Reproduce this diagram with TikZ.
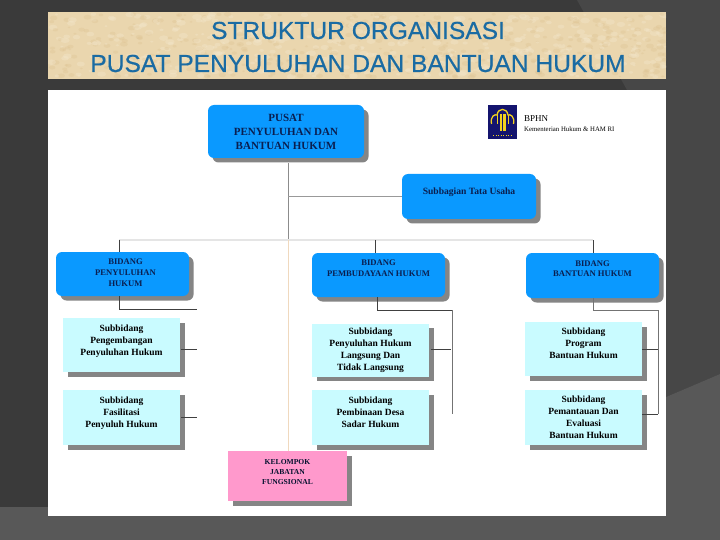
\documentclass[tikz,border=0pt]{standalone}
\usepackage{fontspec}
\setmainfont{Liberation Serif}
\newfontfamily\titlefont[FakeBold=0.5]{Liberation Sans}
\usetikzlibrary{shadows,calc}

\definecolor{slateleft}{HTML}{3A3A3A}
\definecolor{slateright}{HTML}{474747}
\definecolor{slatelow}{HTML}{585858}
\definecolor{papertan}{HTML}{EAD6AE}
\definecolor{paperlight}{HTML}{F4E8CE}
\definecolor{paperdark}{HTML}{DCC08E}
\definecolor{titleblue}{HTML}{1A6BA3}
\definecolor{boxblue}{HTML}{0A99FF}
\definecolor{boxcyan}{HTML}{C9FBFF}
\definecolor{boxpink}{HTML}{FF99CC}
\definecolor{boxshadow}{HTML}{858585}
\definecolor{inkblue}{HTML}{0A1F50}
\definecolor{logonavy}{HTML}{14146E}
\definecolor{logogold}{HTML}{F2D21E}
\definecolor{trunktan}{HTML}{F0D9BE}

\tikzset{
  boxshade/.style={drop shadow={shadow xshift=4.5pt, shadow yshift=-4.5pt,
    fill=boxshadow, opacity=1}},
  headbox/.style={boxshade, fill=boxblue, rounded corners=6pt, inner sep=0pt,
    align=center, text=inkblue, font=\fontsize{8.6}{10.8}\selectfont\bfseries},
  subbox/.style={boxshade, fill=boxcyan, inner sep=0pt, minimum width=117pt,
    align=center, text=black, font=\fontsize{9.5}{12}\selectfont\bfseries},
  darkline/.style={draw=black!75, line width=0.7pt},
  greyline/.style={draw=black!40, line width=0.7pt},
}

\begin{document}
\begin{tikzpicture}[x=1pt, y=-1pt]

  % ================================================================
  % Slide background
  % ================================================================

  \useasboundingbox (0, 0) rectangle (720, 540);
  \fill[slateleft] (0, 0) rectangle (720, 540);
  \fill[slateright] (577, 0) -- (720, 0) -- (720, 374) -- (666, 397)
    -- (666, 90) -- (627, 90) -- cycle;
  \fill[slatelow] (0, 507) -- (48, 507) -- (48, 516) -- (666, 516)
    -- (666, 397) -- (720, 374) -- (720, 540) -- (0, 540) -- cycle;

  % ================================================================
  % Title banner
  % ================================================================

  \fill[papertan] (48, 12) rectangle (666, 79);
  \begin{scope}
    \clip (48, 12) rectangle (666, 79);
    \pgfmathsetseed{42}
    \foreach \n in {1,...,400} {
      \pgfmathsetmacro{\px}{48+618*rnd}
      \pgfmathsetmacro{\py}{14+63*rnd}
      \pgfmathsetmacro{\pr}{1.5+3.5*rnd}
      \fill[paperlight, opacity=0.35] (\px, \py) ellipse ({\pr pt} and {0.6*\pr pt});
      \pgfmathsetmacro{\qx}{48+618*rnd}
      \pgfmathsetmacro{\qy}{14+63*rnd}
      \fill[paperdark, opacity=0.3] (\qx, \qy) ellipse ({0.8*\pr pt} and {0.5*\pr pt});
    }
  \end{scope}
  \node[font=\titlefont\fontsize{24.6}{33}\selectfont, text=titleblue, align=center,
    inner sep=0pt] (judul) at (358, 47)
    {STRUKTUR ORGANISASI\\PUSAT PENYULUHAN DAN BANTUAN HUKUM};

  % ================================================================
  % Chart panel
  % ================================================================

  \fill[white] (48, 90) rectangle (666, 516);

  % ================================================================
  % Logo
  % ================================================================

  \node[fill=logonavy, minimum width=29pt, minimum height=34pt, inner sep=0pt]
    (logo) at (502.5, 122) {};
  \draw[logogold, line width=1.3pt] (491.5, 124) .. controls (490, 116) and (495, 114) .. (497, 115)
    .. controls (498, 107.5) and (507, 107.5) .. (508, 115)
    .. controls (510, 114) and (515, 116) .. (513.5, 124);
  \draw[logogold, line width=1pt] (497, 115) -- (497, 124);
  \draw[logogold, line width=1pt] (508, 115) -- (508, 124);
  \fill[logogold] (499.5, 114) rectangle (505.5, 131);
  \fill[logonavy] (502, 114) rectangle (503, 131);
  \draw[logogold, line width=0.5pt, dotted] (493, 135) -- (512, 135);
  \node[anchor=west, inner sep=0pt, font=\fontsize{9}{9}\selectfont] (bphn) at (524, 119) {BPHN};
  \node[anchor=west, inner sep=0pt, font=\fontsize{6.8}{7}\selectfont] (kementerian) at (524, 129)
    {Kementerian Hukum \& HAM RI};

  % ================================================================
  % Connector junctions
  % ================================================================

  \coordinate (trunk) at (288, 240);
  \coordinate (railA) at (197, 309);
  \coordinate (railB) at (452, 310);
  \coordinate (railC) at (658, 310);

  % ================================================================
  % Head boxes (blue)
  % ================================================================

  \node[headbox, minimum width=156pt, minimum height=53pt,
    font=\fontsize{11}{14}\selectfont\bfseries] (pusat) at (286, 131.5)
    {PUSAT\\PENYULUHAN DAN\\BANTUAN HUKUM};
  \node[headbox, minimum width=134pt, minimum height=45pt,
    font=\fontsize{9.6}{11}\selectfont\bfseries] (tatausaha)
    at (469, 196.5) {Subbagian Tata Usaha\\[-3pt]\strut};
  \node[headbox, minimum width=133pt, minimum height=44pt] (bidangA) at (122.5, 274)
    {\hspace*{6pt}BIDANG\\\hspace*{6pt}PENYULUHAN\\\hspace*{6pt}HUKUM\\[-11pt]\strut};
  \node[headbox, minimum width=133pt, minimum height=44pt] (bidangB) at (378.5, 275)
    {BIDANG\\PEMBUDAYAAN HUKUM\\[3pt]};
  \node[headbox, minimum width=133pt, minimum height=45pt] (bidangC) at (592.5, 275.5)
    {BIDANG\\BANTUAN HUKUM\\[3pt]};

  % ================================================================
  % Sub boxes (cyan)
  % ================================================================

  \node[subbox, minimum height=54pt] (subA) at (121.5, 345)
    {Subbidang\\Pengembangan\\Penyuluhan Hukum\\[-6pt]\strut};
  \node[subbox, minimum height=55pt] (subB) at (121.5, 417.5)
    {Subbidang\\Fasilitasi\\Penyuluh Hukum\\[-6pt]\strut};
  \node[subbox, minimum height=53pt] (subC) at (370.5, 350)
    {Subbidang\\Penyuluhan Hukum\\Langsung Dan\\Tidak Langsung};
  \node[subbox, minimum height=55pt] (subD) at (370.5, 417.5)
    {Subbidang\\Pembinaan Desa\\Sadar Hukum\\[-5pt]\strut};
  \node[subbox, minimum height=54pt] (subE) at (583.5, 349)
    {Subbidang\\Program\\Bantuan Hukum\\[-5pt]\strut};
  \node[subbox, minimum height=55pt] (subF) at (583.5, 417.5)
    {Subbidang\\Pemantauan Dan\\Evaluasi\\Bantuan Hukum};

  % ================================================================
  % Functional group (pink)
  % ================================================================

  \node[boxshade, fill=boxpink, minimum width=119pt, minimum height=50pt, inner sep=0pt,
    align=center, text=inkblue!60!black, font=\fontsize{7.6}{10}\selectfont\bfseries]
    (kelompok) at (287.5, 476) {KELOMPOK\\JABATAN\\FUNGSIONAL\\[-2pt]};

  % ================================================================
  % Connectors
  % ================================================================

  % --- Head to staff section and to the fields ---
  \draw[draw=black!45, line width=1pt] (trunk |- pusat.south) ++(0, 5) -- (trunk);
  \draw[greyline] (trunk |- tatausaha.west) -- (tatausaha.west);
  \draw[draw=black!10, line width=1.2pt] (119, 240) -- (593, 240);
  \draw[draw=trunktan, line width=1pt] (trunk) -- (trunk |- kelompok.north);

  % --- Drops to the three fields ---
  \draw[darkline] (119, 240) -- (119, 240 |- bidangA.north);
  \draw[darkline] (375, 240) -- (375, 240 |- bidangB.north);
  \draw[darkline] (593, 240) -- (593, 240 |- bidangC.north);

  % --- Field to its sub boxes ---
  \draw[darkline] (119, 240 |- bidangA.south) -- (119, 309) -- (railA);
  \draw[darkline] (377.5, 240 |- bidangB.south) -- (377.5, 310) -- (railB);
  \draw[darkline, draw=black!55] (593, 240 |- bidangC.south) -- (593, 310) -- (railC);
  \draw[darkline, draw=black!55] (railB) -- (452, 414);
  \draw[darkline, draw=black!55] (railC) -- (658, 414);

  % --- Ticks ---
  \draw[darkline] (181, 349) -- (197, 349);
  \draw[darkline] (181, 417) -- (197, 417);
  \draw[darkline] (431, 349) -- (451, 349);
  \draw[darkline] (642, 349) -- (658, 349);
  \draw[darkline] (642, 414) -- (658, 414);

\end{tikzpicture}
\end{document}
